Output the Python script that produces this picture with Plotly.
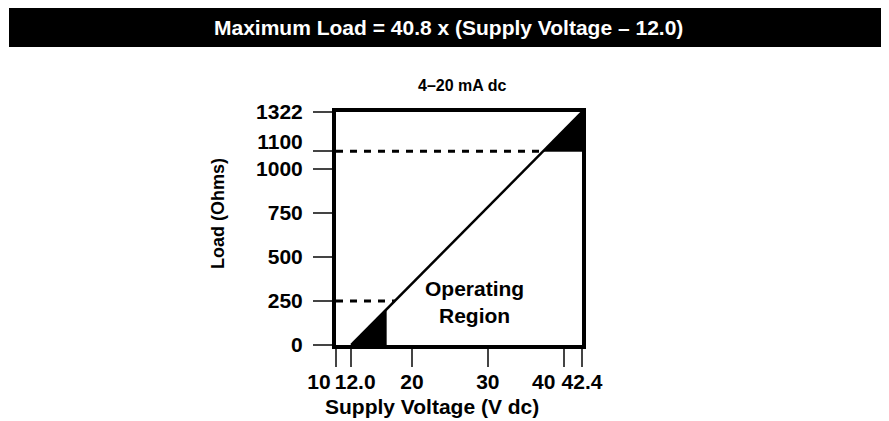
import numpy as np
import plotly.graph_objects as go

# ---------------- data ----------------
title_text = "Maximum Load = 40.8 x (Supply Voltage \u2013 12.0)"
subtitle_text = "4\u201320 mA dc"
x_title = "Supply Voltage (V dc)"
y_title = "Load (Ohms)"
region_text = "Operating<br>Region"

voltage_ticks = [10, 12.0, 20, 30, 40, 42.4]
voltage_tick_labels = ["10", "12.0", "20", "30", "40", "42.4"]
load_ticks = [0, 250, 500, 750, 1000, 1100, 1322]
load_tick_labels = ["0", "250", "500", "750", "1000", "1100", "1322"]

line_voltage = [12.0, 42.4]      # max-load line end points
line_load = [0, 1322]

dashed_loads = [250, 1100]       # reference load levels (dashed)
low_shade_voltage = [12.0, 16.6] # shaded wedge below the line
high_shade_load = [1100, 1322]   # shaded wedge at top right

region_label_voltage = 28.2
region_label_load = 246

# ---------------- style / geometry ----------------
W, H = 889, 421
OFF = 8                                   # page body margin
ML, MR, MT, MB = 328, 315, 104, 84
PW, PH = W - ML - MR, H - MT - MB

def px_x(sx):
    return (sx - OFF - ML) / PW

def px_y(sy):
    return (H - MB - (sy - OFF)) / PH

FONT = "Arial, Liberation Sans, Helvetica, sans-serif"
TICK_FONT = dict(family=FONT, size=21, color="black", weight="bold")

# label nudges (pixels along the axis) so neighbouring labels do not collide
x_label_shift = {"10": -17, "12.0": 4, "40": -20}
y_label_shift = {"1100": -9}

def line_v_at(load):
    return float(np.interp(load, line_load, line_voltage))

def line_l_at(volt):
    return float(np.interp(volt, line_voltage, line_load))

# group ticks by their label shift -> one (overlaid) axis per group
def groups(vals, labels, shifts):
    g = {}
    for v, t in zip(vals, labels):
        s = shifts.get(t, 0)
        g.setdefault(s, ([], []))
        g[s][0].append(v)
        g[s][1].append(t)
    return sorted(g.items(), key=lambda kv: kv[0] != 0)

xgroups = groups(voltage_ticks, voltage_tick_labels, x_label_shift)
ygroups = groups(load_ticks, load_tick_labels, y_label_shift)
xnames = ["x" if i == 0 else f"x{i+1}" for i in range(len(xgroups))]
ynames = ["y" if i == 0 else f"y{i+1}" for i in range(len(ygroups))]

fig = go.Figure()

def add(trace, xa="x", ya="y"):
    trace.update(xaxis=xa, yaxis=ya, hoverinfo="skip", showlegend=False)
    fig.add_trace(trace)

# shaded wedges
v0, v1 = low_shade_voltage
add(go.Scatter(x=[v0, v1, v1, v0], y=[0, 0, line_l_at(v1), 0],
               fill="toself", fillcolor="black", mode="lines",
               line=dict(color="black", width=1)), xa=xnames[1])
l0, l1 = high_shade_load
add(go.Scatter(x=[line_v_at(l0), line_voltage[-1], line_voltage[-1], line_v_at(l0)],
               y=[l0, l0, l1, l0], fill="toself", fillcolor="black", mode="lines",
               line=dict(color="black", width=1)), xa=xnames[2], ya=ynames[-1])

# dashed reference lines
for ld in dashed_loads:
    add(go.Scatter(x=[voltage_ticks[0], line_v_at(ld)], y=[ld, ld], mode="lines",
                   line=dict(color="black", width=3, dash="7px,7px")),
        xa=xnames[-1])

# max load line
add(go.Scatter(x=line_voltage, y=line_load, mode="lines",
               line=dict(color="black", width=2.5)))

axis_common = dict(
    showline=True, linecolor="black", linewidth=4, mirror=True,
    showgrid=False, zeroline=False, ticks="outside", tickcolor="#444444",
    tickwidth=1.5, tickfont=TICK_FONT, tickangle=0, fixedrange=True,
    tickmode="array",
)

layout_axes = {}
for i, (shift, (vals, labels)) in enumerate(xgroups):
    key = "xaxis" if i == 0 else f"xaxis{i+1}"
    ax = dict(axis_common, range=[voltage_ticks[0], voltage_ticks[-1]],
              tickvals=vals, ticktext=labels, ticklen=18, ticklabelstandoff=-3,
              ticklabelshift=shift, anchor="y", side="bottom")
    if i:
        ax["overlaying"] = "x"
    layout_axes[key] = ax
for i, (shift, (vals, labels)) in enumerate(ygroups):
    key = "yaxis" if i == 0 else f"yaxis{i+1}"
    ax = dict(axis_common, range=[load_ticks[0], load_ticks[-1]],
              tickvals=vals, ticktext=labels, ticklen=19,
              ticklabelshift=shift, ticklabelstandoff=6, anchor="x", side="left")
    if i:
        ax["overlaying"] = "y"
    layout_axes[key] = ax

# title bar
fig.add_shape(type="rect", xref="paper", yref="paper",
              x0=px_x(9), x1=px_x(W + 20), y0=px_y(47), y1=px_y(8),
              fillcolor="black", line=dict(width=0), layer="above")

bold = dict(family=FONT, size=21, color="black", weight="bold")
anns = [
    dict(text=title_text, x=px_x(448.5), y=px_y(27.5), font=dict(bold, color="white")),
    dict(text=subtitle_text, x=px_x(462), y=px_y(85), font=dict(bold, size=16)),
    dict(text=x_title, x=px_x(432), y=px_y(406), font=bold),
    dict(text=y_title, x=px_x(218), y=px_y(214), font=dict(bold, size=18), textangle=-90),
]
for a in anns:
    fig.add_annotation(xref="paper", yref="paper", showarrow=False,
                       xanchor="center", yanchor="middle", **a)
fig.add_annotation(text=region_text, x=region_label_voltage, y=region_label_load,
                   xref="x", yref="y", showarrow=False, font=bold,
                   xanchor="center", yanchor="middle")

fig.update_layout(
    width=W, height=H, margin=dict(l=ML, r=MR, t=MT, b=MB),
    paper_bgcolor="white", plot_bgcolor="white", showlegend=False,
    **layout_axes,
)

fig.write_html("out.html")
